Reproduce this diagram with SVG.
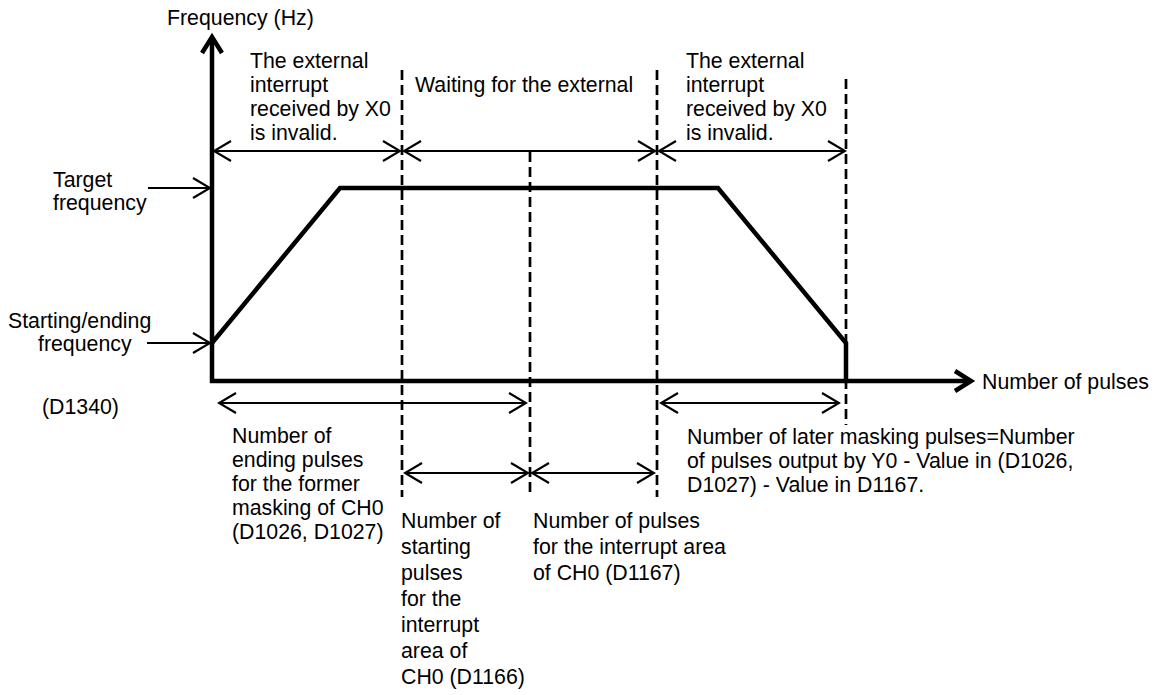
<svg xmlns="http://www.w3.org/2000/svg" width="1175" height="695" viewBox="0 0 1175 695">
<style>
text{font-family:"Liberation Sans",Arial,sans-serif;font-size:21.3px;fill:#000}
.axis{stroke:#000;stroke-width:4.5;fill:none}
.curve{stroke:#000;stroke-width:4.5;fill:none;stroke-linejoin:miter}
.dash{stroke:#000;stroke-width:2.7;stroke-dasharray:10 5;fill:none}
.dim{stroke:#000;stroke-width:2;fill:none;marker-start:url(#ah);marker-end:url(#ah)}
.one{stroke:#000;stroke-width:2;fill:none;marker-end:url(#ah)}
</style>
<defs>
<marker id="ah" viewBox="0 0 20 22" refX="18" refY="11" markerWidth="20" markerHeight="22" markerUnits="userSpaceOnUse" orient="auto-start-reverse">
<path d="M1,1 L18,11 L1,21" fill="none" stroke="#000" stroke-width="2.2"/>
</marker>
</defs>
<rect width="1175" height="695" fill="#fff"/>
<g id="axes">
<path class="axis" d="M212,383 V38"/>
<path class="axis" d="M202,53 L212,37 L222,53"/>
<path class="axis" d="M210,381 H970"/>
<path class="axis" d="M955,371 L971,381 L955,391"/>
<text x="167" y="25">Frequency (Hz)</text>
<text x="982" y="389">Number of pulses</text>
</g>
<g id="curve">
<path class="curve" d="M212,343 L340,188 L718,188 L846,343 L846,381"/>
</g>
<g id="dashes">
<path class="dash" d="M402,70 V497"/>
<path class="dash" d="M530,152 V497"/>
<path class="dash" d="M657,70 V497"/>
<path class="dash" d="M846,79 V425"/>
</g>
<g id="connectors">
<path class="one" d="M148,188 H210"/>
<path class="one" d="M147,343 H210"/>
<path class="dim" d="M214,151 H400"/>
<path class="dim" d="M404,151 H655"/>
<path class="dim" d="M659,151 H845"/>
<path class="dim" d="M219,403 H526"/>
<path class="dim" d="M661,403 H839"/>
<path class="dim" d="M405,473 H528"/>
<path class="dim" d="M532,473 H654"/>
</g>
<g id="label-target">
<text x="53" y="187">Target</text>
<text x="53" y="210">frequency</text>
</g>
<g id="label-start">
<text x="8" y="328">Starting/ending</text>
<text x="38" y="351">frequency</text>
</g>
<g id="label-d1340">
<text x="42" y="414">(D1340)</text>
</g>
<g id="label-invalid-left">
<text x="250" y="68">The external</text>
<text x="250" y="92">interrupt</text>
<text x="250" y="116">received by X0</text>
<text x="250" y="140">is invalid.</text>
</g>
<g id="label-waiting">
<text x="415" y="92">Waiting for the external</text>
</g>
<g id="label-invalid-right">
<text x="686" y="68">The external</text>
<text x="686" y="92">interrupt</text>
<text x="686" y="116">received by X0</text>
<text x="686" y="140">is invalid.</text>
</g>
<g id="label-ending">
<text x="232" y="443">Number of</text>
<text x="232" y="467">ending pulses</text>
<text x="232" y="491">for the former</text>
<text x="232" y="515">masking of CH0</text>
<text x="232" y="539">(D1026, D1027)</text>
</g>
<g id="label-starting">
<text x="401" y="528">Number of</text>
<text x="401" y="554">starting</text>
<text x="401" y="580">pulses</text>
<text x="401" y="606">for the</text>
<text x="401" y="632">interrupt</text>
<text x="401" y="658">area of</text>
<text x="401" y="684">CH0 (D1166)</text>
</g>
<g id="label-interrupt">
<text x="533" y="528">Number of pulses</text>
<text x="533" y="554">for the interrupt area</text>
<text x="533" y="580">of CH0 (D1167)</text>
</g>
<g id="label-later">
<text x="687" y="444">Number of later masking pulses=Number</text>
<text x="687" y="468">of pulses output by Y0 - Value in (D1026,</text>
<text x="687" y="492">D1027) - Value in D1167.</text>
</g>
</svg>
